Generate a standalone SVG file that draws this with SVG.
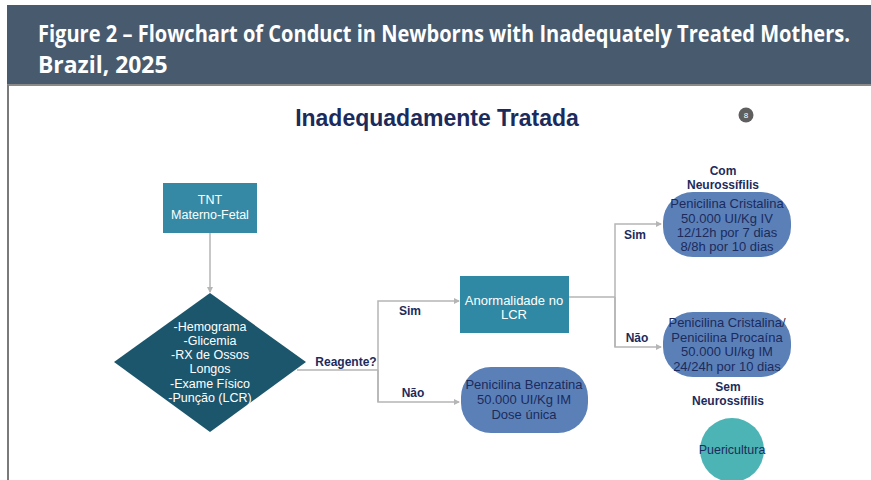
<svg xmlns="http://www.w3.org/2000/svg" width="871" height="480" viewBox="0 0 871 480">
<style>
.hdr{font-family:"Open Sans","Liberation Sans",sans-serif;font-weight:700;font-size:23px;fill:#ffffff}
.t{font-family:"Liberation Sans",Arial,sans-serif;font-size:13px;text-anchor:middle}
.s{font-size:12.5px}
.w{fill:#ffffff}
.d{fill:#1c2b5c}
.b{font-family:"Liberation Sans",Arial,sans-serif;font-size:12px;font-weight:700;fill:#1c2b5c;text-anchor:middle}
.ln{fill:none;stroke:#b5b5b5;stroke-width:1.5}
</style>
<defs>
<marker id="ah" markerWidth="6" markerHeight="6" refX="5" refY="3" orient="auto" markerUnits="userSpaceOnUse">
<path d="M0,0 L6,3 L0,6 z" fill="#b5b5b5"/>
</marker>
</defs>
<rect x="0" y="0" width="871" height="480" fill="#ffffff"/>
<g id="header">
<rect x="7" y="5" width="864" height="79" fill="#485a6e"/>
<rect x="7" y="84" width="864" height="2" fill="#8a8a8a"/>
<line x1="8" y1="85" x2="8" y2="480" stroke="#7a7a7a" stroke-width="2"/>
<g transform="translate(38,0) scale(0.78,1)">
<text class="hdr" x="0" y="42" textLength="1041" lengthAdjust="spacingAndGlyphs">Figure 2 – Flowchart of Conduct in Newborns with Inadequately Treated Mothers.</text>
<text class="hdr" x="0" y="73" textLength="166" lengthAdjust="spacingAndGlyphs">Brazil, 2025</text>
</g>
</g>
<g id="title">
<text x="437" y="126" font-family="Liberation Sans,Arial,sans-serif" font-size="23" font-weight="700" fill="#1c2b5c" text-anchor="middle">Inadequadamente Tratada</text>
</g>
<g id="badge">
<circle cx="746" cy="115" r="7.5" fill="#5f5f5f"/>
<text x="746" y="118" font-family="Liberation Sans,Arial,sans-serif" font-size="8" fill="#ffffff" text-anchor="middle">8</text>
</g>
<g id="connectors">
<line class="ln" x1="210" y1="233" x2="210" y2="292" marker-end="url(#ah)"/>
<polyline class="ln" points="297,370 378,370"/>
<polyline class="ln" points="378,402 378,301 459,301" marker-end="url(#ah)"/>
<polyline class="ln" points="378,370 378,402 459,402" marker-end="url(#ah)"/>
<polyline class="ln" points="569,297 615,297"/>
<polyline class="ln" points="615,347 615,224 661,224" marker-end="url(#ah)"/>
<polyline class="ln" points="615,297 615,347 661,347" marker-end="url(#ah)"/>
</g>
<g id="tnt">
<rect x="163" y="183" width="94" height="50" fill="#3689a4"/>
<text class="t s w" x="210" y="204">TNT</text>
<text class="t s w" x="210" y="219">Materno-Fetal</text>
</g>
<g id="diamond">
<polygon points="210,293 306,362 210,432 114,362" fill="#1c566c"/>
<text class="t s w" x="210" y="331">-Hemograma</text>
<text class="t s w" x="210" y="345">-Glicemia</text>
<text class="t s w" x="210" y="359">-RX de Ossos</text>
<text class="t s w" x="210" y="373">Longos</text>
<text class="t s w" x="210" y="388">-Exame Físico</text>
<text class="t s w" x="210" y="402">-Punção (LCR)</text>
</g>
<g id="label-reagente">
<text class="b" x="346" y="366">Reagente?</text>
</g>
<g id="label-sim1"><text class="b" x="410" y="315">Sim</text></g>
<g id="label-nao1"><text class="b" x="413" y="397">Não</text></g>
<g id="anormalidade">
<rect x="460" y="276" width="109" height="57" fill="#2f89a4"/>
<text class="t w" x="514" y="305">Anormalidade no</text>
<text class="t w" x="514" y="319">LCR</text>
</g>
<g id="benzatina">
<rect x="461" y="367" width="127" height="66" rx="30" fill="#5b80b8"/>
<text class="t d" x="524" y="389">Penicilina Benzatina</text>
<text class="t d" x="524" y="404">50.000 UI/Kg IM</text>
<text class="t d" x="524" y="419">Dose única</text>
</g>
<g id="label-sim2"><text class="b" x="635" y="239">Sim</text></g>
<g id="label-nao2"><text class="b" x="637" y="342">Não</text></g>
<g id="label-com">
<text class="b" x="723" y="175">Com</text>
<text class="b" x="723" y="189">Neurossífilis</text>
</g>
<g id="cristalina">
<rect x="663" y="192" width="128" height="65" rx="30" fill="#5b80b8"/>
<text class="t d" x="727" y="208">Penicilina Cristalina</text>
<text class="t d" x="727" y="223">50.000 UI/Kg IV</text>
<text class="t d" x="727" y="237">12/12h por 7 dias</text>
<text class="t d" x="727" y="251">8/8h por 10 dias</text>
</g>
<g id="procaina">
<rect x="663" y="312" width="128" height="65" rx="30" fill="#5b80b8"/>
<text class="t d" x="727" y="327">Penicilina Cristalina/</text>
<text class="t d" x="727" y="342">Penicilina Procaína</text>
<text class="t d" x="727" y="356">50.000 UI/kg IM</text>
<text class="t d" x="727" y="371">24/24h por 10 dias</text>
</g>
<g id="label-sem">
<text class="b" x="728" y="391">Sem</text>
<text class="b" x="728" y="405">Neurossífilis</text>
</g>
<g id="puericultura">
<circle cx="732" cy="450" r="32" fill="#4cb4b5"/>
<text class="t s d" x="732" y="454">Puericultura</text>
</g>
</svg>
